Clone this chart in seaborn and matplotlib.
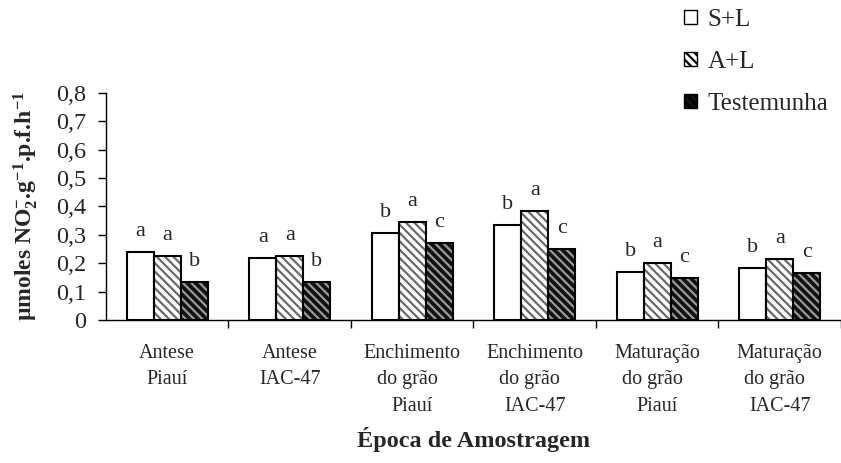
import pandas as pd
import matplotlib
import matplotlib.pyplot as plt
import seaborn as sns
from matplotlib.patches import Rectangle
from matplotlib.ticker import FixedLocator, FuncFormatter

# data
epocas = ["Antese\nPiauí", "Antese\nIAC-47", "Enchimento\ndo grão  \nPiauí",
          "Enchimento\ndo grão  \nIAC-47", "Maturação\ndo grão  \nPiauí",
          "Maturação\ndo grão  \nIAC-47"]
tratamentos = ["S+L", "A+L", "Testemunha"]
sl = [0.238, 0.218, 0.305, 0.335, 0.168, 0.182]
al = [0.225, 0.225, 0.345, 0.383, 0.200, 0.214]
test = [0.133, 0.133, 0.272, 0.250, 0.147, 0.165]
letras_sl = ["a", "a", "b", "b", "b", "b"]
letras_al = ["a", "a", "a", "a", "a", "a"]
letras_test = ["b", "b", "c", "c", "c", "c"]
yticks = [0, 0.1, 0.2, 0.3, 0.4, 0.5, 0.6, 0.7, 0.8]

df = pd.DataFrame({
    "epoca": epocas * 3,
    "trat": [t for t in tratamentos for _ in epocas],
    "valor": sl + al + test,
})

sns.set_style("white")
plt.rcParams['font.family'] = ['Liberation Serif', 'DejaVu Serif']
plt.rcParams['mathtext.fontset'] = 'custom'
plt.rcParams['mathtext.rm'] = 'Liberation Serif:bold'
plt.rcParams['mathtext.it'] = 'Liberation Serif:bold'
plt.rcParams['mathtext.bf'] = 'Liberation Serif:bold'
plt.rcParams['hatch.linewidth'] = 1.6

fig = plt.figure(figsize=(8.41, 4.63), dpi=100)
ax = fig.add_axes([0.126, 0.309, 0.874, 0.49])

sns.barplot(data=df, x="epoca", y="valor", hue="trat", order=epocas,
            hue_order=tratamentos, width=0.66, ax=ax, errorbar=None,
            legend=False)

estilos = [
    dict(face="white", hatch=None, hcol="black"),
    dict(face="white", hatch="\\\\\\\\", hcol="#6a6a6a"),
    dict(face="#111111", hatch="\\\\\\\\", hcol="#9a9a9a"),
]
letras = [letras_sl, letras_al, letras_test]

for cont, est, lets, nome in zip(ax.containers, estilos, letras, tratamentos):
    for bar, let in zip(cont, lets):
        bar.set_facecolor(est["face"])
        bar.set_edgecolor(est["hcol"])
        bar.set_linewidth(0)
        if est["hatch"]:
            bar.set_hatch(est["hatch"])
        # black outline on top of the hatched patch
        ax.add_patch(Rectangle(bar.get_xy(), bar.get_width(), bar.get_height(),
                               fill=False, edgecolor="black", linewidth=1.5,
                               zorder=bar.get_zorder() + 0.1))
        ax.annotate(let, (bar.get_x() + bar.get_width() / 2, bar.get_height()),
                    xytext=(0, 8), textcoords="offset points", ha="center",
                    va="bottom", fontsize=16)

# legend handles
handles = []
for est, nome in zip(estilos, tratamentos):
    handles.append(Rectangle((0, 0), 1, 1, facecolor=est["face"],
                             edgecolor="black", hatch=est["hatch"],
                             linewidth=1.0, label=nome))
leg = fig.legend(handles=handles, loc="upper right", bbox_to_anchor=(1.012, 1.03),
                 frameon=False, fontsize=18, handlelength=0.5, handleheight=0.5,
                 handletextpad=0.45, labelspacing=0.8)

ax.set_ylim(0, 0.8)
ax.set_xlim(-0.5, len(epocas) - 0.5)
ax.yaxis.set_major_locator(FixedLocator(yticks))
ax.yaxis.set_major_formatter(FuncFormatter(
    lambda v, p: "0" if v == 0 else f"{v:.1f}".replace(".", ",")))
ax.tick_params(axis="y", which="major", direction="out", length=6, width=1,
               left=True, labelsize=17.5, pad=8, color="black")

ax.set_xticks(range(len(epocas)))
ax.set_xticklabels(epocas, fontsize=14.5, linespacing=1.55)
ax.xaxis.set_minor_locator(FixedLocator([i + 0.5 for i in range(len(epocas))]))
ax.tick_params(axis="x", which="major", length=0, pad=17)
ax.tick_params(axis="x", which="minor", direction="out", length=6, width=1,
               bottom=True, color="black")

sns.despine(ax=ax, top=True, right=True)
for s in ["left", "bottom"]:
    ax.spines[s].set_color("black")
    ax.spines[s].set_linewidth(1)

ax.set_xlabel("Época de Amostragem", fontsize=17.5, fontweight="bold", labelpad=8)
ax.set_ylabel(r"µmoles NO$_2^{-}$.g$^{-1}$.p.f.h$^{-1}$", fontsize=17,
              fontweight="bold", labelpad=12)

fig.savefig("out.png", dpi=100)
